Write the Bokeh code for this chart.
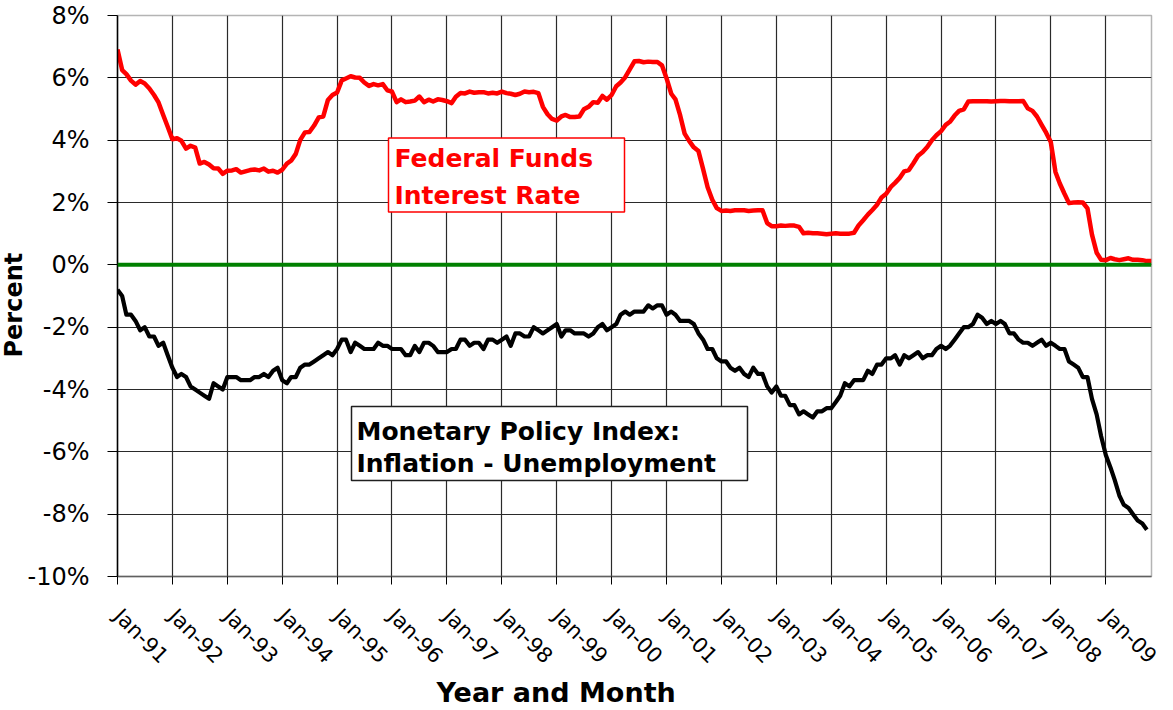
import math
import pandas as pd
from bokeh.plotting import figure
from bokeh.models import FixedTicker, Span, BoxAnnotation, Label, PrintfTickFormatter, Range1d, Title
from bokeh.embed import file_html
from bokeh.resources import INLINE

# ---------------- data (monthly, from Jan-1991) ----------------
fed_funds = [
    6.91, 6.25, 6.12, 5.91, 5.78, 5.90, 5.82, 5.66, 5.45, 5.21, 4.81, 4.43,   # 1991
    4.03, 4.06, 3.98, 3.73, 3.82, 3.76, 3.25, 3.30, 3.22, 3.10, 3.09, 2.92,   # 1992
    3.02, 3.03, 3.07, 2.96, 3.00, 3.04, 3.06, 3.03, 3.09, 2.99, 3.02, 2.96,   # 1993
    3.05, 3.25, 3.34, 3.56, 4.01, 4.25, 4.26, 4.47, 4.73, 4.76, 5.29, 5.45,   # 1994
    5.53, 5.92, 5.98, 6.05, 6.01, 6.00, 5.85, 5.74, 5.80, 5.76, 5.80, 5.60,   # 1995
    5.56, 5.22, 5.31, 5.22, 5.24, 5.27, 5.40, 5.22, 5.30, 5.24, 5.31, 5.29,   # 1996
    5.25, 5.19, 5.39, 5.51, 5.50, 5.56, 5.52, 5.54, 5.54, 5.50, 5.52, 5.50,   # 1997
    5.56, 5.51, 5.49, 5.45, 5.49, 5.56, 5.54, 5.55, 5.51, 5.07, 4.83, 4.68,   # 1998
    4.63, 4.76, 4.81, 4.74, 4.74, 4.76, 4.99, 5.07, 5.22, 5.20, 5.42, 5.30,   # 1999
    5.45, 5.73, 5.85, 6.02, 6.27, 6.53, 6.54, 6.50, 6.52, 6.51, 6.51, 6.40,   # 2000
    5.98, 5.49, 5.31, 4.80, 4.21, 3.97, 3.77, 3.65, 3.07, 2.49, 2.09, 1.82,   # 2001
    1.73, 1.74, 1.73, 1.75, 1.75, 1.75, 1.73, 1.74, 1.75, 1.75, 1.34, 1.24,   # 2002
    1.24, 1.26, 1.25, 1.26, 1.26, 1.22, 1.01, 1.03, 1.01, 1.01, 1.00, 0.98,   # 2003
    1.00, 1.01, 1.00, 1.00, 1.00, 1.03, 1.26, 1.43, 1.61, 1.76, 1.93, 2.16,   # 2004
    2.28, 2.50, 2.63, 2.79, 3.00, 3.04, 3.26, 3.50, 3.62, 3.78, 4.00, 4.16,   # 2005
    4.29, 4.49, 4.59, 4.79, 4.94, 4.99, 5.24, 5.25, 5.25, 5.25, 5.25, 5.24,   # 2006
    5.25, 5.26, 5.26, 5.25, 5.25, 5.25, 5.26, 5.02, 4.94, 4.76, 4.49, 4.24,   # 2007
    3.94, 2.98, 2.61, 2.28, 1.98, 2.00, 2.01, 2.00, 1.81, 0.97, 0.39, 0.16,   # 2008
    0.15, 0.22, 0.18, 0.15, 0.18, 0.21, 0.16, 0.16, 0.15, 0.12, 0.12,         # 2009
]

policy_index = [
    -0.8, -1.0, -1.6, -1.6, -1.8, -2.1, -2.0, -2.3, -2.3, -2.6, -2.5, -2.9,   # 1991
    -3.3, -3.6, -3.5, -3.6, -3.9, -4.0, -4.1, -4.2, -4.3, -3.8, -3.9, -4.0,   # 1992
    -3.6, -3.6, -3.6, -3.7, -3.7, -3.7, -3.6, -3.6, -3.5, -3.6, -3.4, -3.3,   # 1993
    -3.7, -3.8, -3.6, -3.6, -3.3, -3.2, -3.2, -3.1, -3.0, -2.9, -2.8, -2.9,   # 1994
    -2.7, -2.4, -2.4, -2.8, -2.5, -2.6, -2.7, -2.7, -2.7, -2.5, -2.6, -2.6,   # 1995
    -2.7, -2.7, -2.7, -2.9, -2.9, -2.6, -2.8, -2.5, -2.5, -2.6, -2.8, -2.8,   # 1996
    -2.8, -2.7, -2.7, -2.4, -2.4, -2.6, -2.5, -2.5, -2.7, -2.4, -2.4, -2.5,   # 1997
    -2.4, -2.3, -2.6, -2.2, -2.2, -2.3, -2.3, -2.0, -2.1, -2.2, -2.1, -2.0,   # 1998
    -1.9, -2.3, -2.1, -2.1, -2.2, -2.2, -2.2, -2.3, -2.2, -2.0, -1.9, -2.1,   # 1999
    -2.0, -1.9, -1.6, -1.5, -1.6, -1.5, -1.5, -1.5, -1.3, -1.4, -1.3, -1.3,   # 2000
    -1.6, -1.5, -1.6, -1.8, -1.8, -1.8, -1.9, -2.2, -2.4, -2.7, -2.7, -3.0,   # 2001
    -3.1, -3.1, -3.3, -3.4, -3.3, -3.5, -3.6, -3.3, -3.5, -3.5, -3.9, -4.1,   # 2002
    -3.9, -4.2, -4.2, -4.5, -4.5, -4.8, -4.7, -4.8, -4.9, -4.7, -4.7, -4.6,   # 2003
    -4.6, -4.4, -4.2, -3.8, -3.9, -3.7, -3.7, -3.7, -3.4, -3.5, -3.2, -3.2,   # 2004
    -3.0, -3.0, -2.9, -3.2, -2.9, -3.0, -2.9, -2.8, -3.0, -2.9, -2.9, -2.7,   # 2005
    -2.6, -2.7, -2.6, -2.4, -2.2, -2.0, -2.0, -1.9, -1.6, -1.7, -1.9, -1.8,   # 2006
    -1.9, -1.8, -1.9, -2.2, -2.2, -2.4, -2.5, -2.5, -2.6, -2.5, -2.4, -2.6,   # 2007
    -2.5, -2.6, -2.7, -2.7, -3.1, -3.2, -3.3, -3.6, -3.6, -4.3, -4.8, -5.5,   # 2008
    -6.1, -6.5, -6.9, -7.4, -7.7, -7.8, -8.0, -8.2, -8.3, -8.5,               # 2009
]

tick_labels = ["Jan-91", "Jan-92", "Jan-93", "Jan-94", "Jan-95", "Jan-96", "Jan-97",
               "Jan-98", "Jan-99", "Jan-00", "Jan-01", "Jan-02", "Jan-03", "Jan-04",
               "Jan-05", "Jan-06", "Jan-07", "Jan-08", "Jan-09"]
y_ticks = [-10, -8, -6, -4, -2, 0, 2, 4, 6, 8]

fed_label = ["Federal Funds", "Interest Rate"]
idx_label = ["Monetary Policy Index:", "Inflation - Unemployment"]

# ---------------- layout ----------------
FONT = "DejaVu Sans"
x_start = pd.Timestamp("1991-01-01")
x_end = pd.Timestamp("2009-11-01")
ms0 = x_start.value // 10**6
ms1 = x_end.value // 10**6
FL, FT, FW, FH = 116, 15, 1034, 561      # frame left/top/width/height (page px)
Y0, Y1 = -10, 8


def px_x(px):
    return ms0 + (px - FL) / FW * (ms1 - ms0)


def px_y(py):
    return Y1 - (py - FT) / FH * (Y1 - Y0)


fed_dates = pd.date_range(x_start, periods=len(fed_funds), freq="MS")
idx_dates = pd.date_range(x_start, periods=len(policy_index), freq="MS")

p = figure(x_axis_type="datetime",
           x_range=Range1d(ms0, ms1), y_range=Range1d(Y0, Y1),
           frame_width=FW, frame_height=FH,
           min_border_left=FL - 2, min_border_top=FT,
           min_border_right=12, min_border_bottom=133,
           output_backend="svg", toolbar_location=None,
           background_fill_color="white", border_fill_color="white")

p.outline_line_color = "#b4b4b4"
p.outline_line_width = 1.5

# grid
for g in (p.xgrid, p.ygrid):
    g.grid_line_color = "#2a2a2a"
    g.grid_line_alpha = 1
    g.grid_line_width = 1.2

# x axis
tick_ms = [pd.Timestamp(f"{1991 + i}-01-01").value // 10**6 for i in range(len(tick_labels))]
p.xaxis.ticker = FixedTicker(ticks=tick_ms)
p.xaxis.major_label_overrides = {t: lab for t, lab in zip(tick_ms, tick_labels)}
p.xaxis.major_label_orientation = -math.pi / 4
p.xaxis.major_label_text_font = FONT
p.xaxis.major_label_text_font_size = "21px"
p.xaxis.major_label_text_color = "black"
p.xaxis.major_label_standoff = 28
p.xaxis.major_tick_out = 8
p.xaxis.major_tick_in = 0
p.xaxis.minor_tick_line_color = None
p.xaxis.axis_line_color = "#606060"
p.xaxis.axis_line_width = 1.5
p.xaxis.major_tick_line_color = "black"

# y axis
p.yaxis.ticker = FixedTicker(ticks=y_ticks)
p.yaxis.formatter = PrintfTickFormatter(format="%d%%")
p.yaxis.major_label_text_font = FONT
p.yaxis.major_label_text_font_size = "24px"
p.yaxis.major_label_text_color = "black"
p.yaxis.major_label_standoff = 18
p.yaxis.major_tick_out = 10
p.yaxis.major_tick_in = 0
p.yaxis.minor_tick_line_color = None
p.yaxis.axis_line_color = "black"
p.yaxis.axis_line_width = 1.5
p.yaxis.major_tick_line_color = "black"

# axis titles
p.add_layout(Title(text="Year and Month", align="left", offset=435 - FL, standoff=-9,
                   text_font=FONT, text_font_style="bold", text_font_size="27px",
                   text_color="black"), "below")
p.add_layout(Title(text="Percent", align="left", offset=FT + FH - 357, standoff=-6,
                   text_font=FONT, text_font_style="bold", text_font_size="24px",
                   text_color="black"), "left")

# zero line
p.add_layout(Span(location=0, dimension="width", line_color="#008000", line_width=4))

# series
p.line(fed_dates, fed_funds, line_color="#ff0000", line_width=4.5, line_join="round")
p.line(idx_dates, policy_index, line_color="black", line_width=4.2, line_join="round")

# annotation boxes
p.add_layout(BoxAnnotation(left=px_x(387), right=px_x(623), top=px_y(137.5), bottom=px_y(211.5),
                           fill_color="white", fill_alpha=1, line_color="#ff0000",
                           line_alpha=1, line_width=1.5, level="overlay"))
p.add_layout(BoxAnnotation(left=px_x(350), right=px_x(746), top=px_y(406), bottom=px_y(480),
                           fill_color="white", fill_alpha=1, line_color="#202020",
                           line_alpha=1, line_width=1.5, level="overlay"))

for txt, base in zip(fed_label, [158, 194.5]):
    p.add_layout(Label(x=px_x(393), y=px_y(base), text=txt, text_font=FONT,
                       text_font_style="bold", text_font_size="25px", text_color="#ff0000",
                       text_baseline="alphabetic", text_align="left", level="overlay"))
for txt, base in zip(idx_label, [430.5, 462.5]):
    p.add_layout(Label(x=px_x(355), y=px_y(base), text=txt, text_font=FONT,
                       text_font_style="bold", text_font_size="25px", text_color="black",
                       text_baseline="alphabetic", text_align="left", level="overlay"))

open("out.html", "w").write(file_html(p, INLINE))
